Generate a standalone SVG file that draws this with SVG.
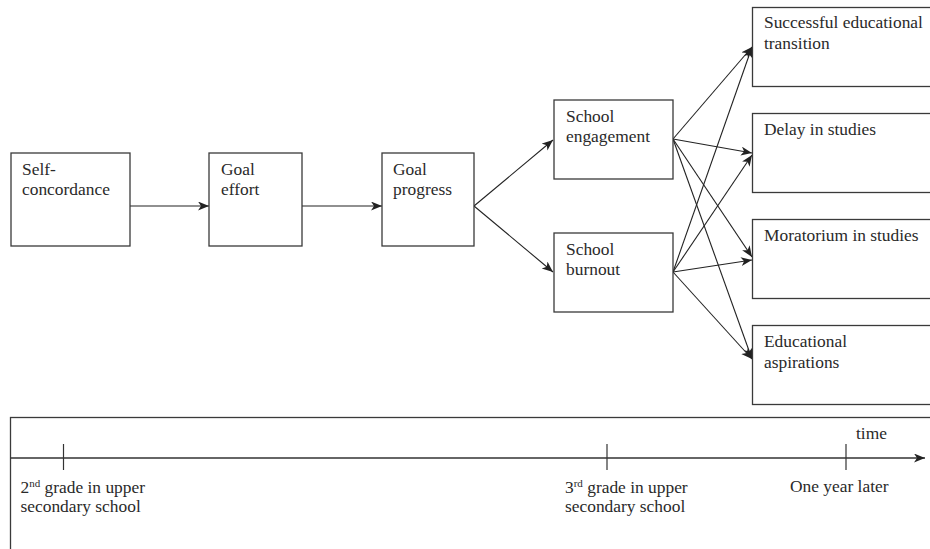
<svg xmlns="http://www.w3.org/2000/svg" width="930" height="549" viewBox="0 0 930 549">
  <style>
    .box { fill: #ffffff; stroke: #3a3a3a; stroke-width: 1.3; }
    .lbl { font-family: "Liberation Serif", "Times New Roman", serif; font-size: 17.4px; fill: #2a2a2a; }
    .edge { stroke: #222222; stroke-width: 1.1; fill: none; marker-end: url(#arrow); }
    .axis { stroke: #333333; stroke-width: 1.3; fill: none; }
    .tick { stroke: #333333; stroke-width: 1.2; }
    .sup { font-size: 11px; }
  </style>
  <defs>
    <marker id="arrow" markerUnits="userSpaceOnUse" markerWidth="12" markerHeight="10" refX="11" refY="4.5" orient="auto">
      <path d="M0,0 L11,4.5 L0,9 L3,4.5 z" fill="#222222"/>
    </marker>
  </defs>

  <rect width="930" height="549" fill="#ffffff"/>

  <!-- connectors -->
  <g id="connectors">
    <line class="edge" x1="130" y1="206" x2="209" y2="206"/>
    <line class="edge" x1="302" y1="206" x2="382" y2="206"/>
    <line class="edge" x1="474" y1="206" x2="553" y2="140"/>
    <line class="edge" x1="474" y1="206" x2="553" y2="272"/>
    <!-- from School engagement -->
    <line class="edge" x1="673" y1="139" x2="752" y2="47"/>
    <line class="edge" x1="673" y1="139" x2="752" y2="153"/>
    <line class="edge" x1="673" y1="139" x2="752" y2="257"/>
    <line class="edge" x1="673" y1="139" x2="752" y2="359"/>
    <!-- from School burnout -->
    <line class="edge" x1="673" y1="272" x2="752" y2="47"/>
    <line class="edge" x1="673" y1="272" x2="752" y2="155"/>
    <line class="edge" x1="673" y1="272" x2="752" y2="260"/>
    <line class="edge" x1="673" y1="272" x2="752" y2="359"/>
  </g>

  <g id="self-concordance">
    <rect class="box" x="11" y="153" width="119" height="93"/>
    <text class="lbl" x="22" y="175">Self-</text>
    <text class="lbl" x="22" y="195">concordance</text>
  </g>
  <g id="goal-effort">
    <rect class="box" x="209" y="153" width="93" height="93"/>
    <text class="lbl" x="221" y="175">Goal</text>
    <text class="lbl" x="221" y="195">effort</text>
  </g>
  <g id="goal-progress">
    <rect class="box" x="382" y="153" width="92" height="93"/>
    <text class="lbl" x="393" y="175">Goal</text>
    <text class="lbl" x="393" y="195">progress</text>
  </g>
  <g id="school-engagement">
    <rect class="box" x="554" y="100" width="119" height="79"/>
    <text class="lbl" x="566" y="122">School</text>
    <text class="lbl" x="566" y="142">engagement</text>
  </g>
  <g id="school-burnout">
    <rect class="box" x="554" y="233" width="119" height="79"/>
    <text class="lbl" x="566" y="255">School</text>
    <text class="lbl" x="566" y="275">burnout</text>
  </g>

  <g id="successful-transition">
    <rect class="box" x="752.5" y="7.5" width="190" height="79"/>
    <text class="lbl" x="764" y="28">Successful educational</text>
    <text class="lbl" x="764" y="49">transition</text>
  </g>
  <g id="delay-in-studies">
    <rect class="box" x="752.5" y="113.5" width="190" height="79"/>
    <text class="lbl" x="764" y="135">Delay in studies</text>
  </g>
  <g id="moratorium-in-studies">
    <rect class="box" x="752.5" y="219.5" width="190" height="79"/>
    <text class="lbl" x="764" y="241">Moratorium in studies</text>
  </g>
  <g id="educational-aspirations">
    <rect class="box" x="752.5" y="325.5" width="190" height="79"/>
    <text class="lbl" x="764" y="347">Educational</text>
    <text class="lbl" x="764" y="368">aspirations</text>
  </g>

  <!-- timeline panel -->
  <g id="timeline">
    <rect class="box" x="10.5" y="417.5" width="940" height="150"/>
    <line class="axis" x1="10.5" y1="458" x2="925" y2="458" marker-end="url(#arrow)"/>
    <line class="tick" x1="63.5" y1="444" x2="63.5" y2="470"/>
    <line class="tick" x1="607" y1="444" x2="607" y2="470"/>
    <line class="tick" x1="846" y1="444" x2="846" y2="470"/>
    <text class="lbl" x="856" y="439">time</text>
    <text class="lbl" x="20.5" y="493">2<tspan class="sup" dy="-6">nd</tspan><tspan dy="6"> grade in upper</tspan></text>
    <text class="lbl" x="20.5" y="512">secondary school</text>
    <text class="lbl" x="565" y="493">3<tspan class="sup" dy="-6">rd</tspan><tspan dy="6"> grade in upper</tspan></text>
    <text class="lbl" x="565" y="512">secondary school</text>
    <text class="lbl" x="790" y="492">One year later</text>
  </g>
</svg>
